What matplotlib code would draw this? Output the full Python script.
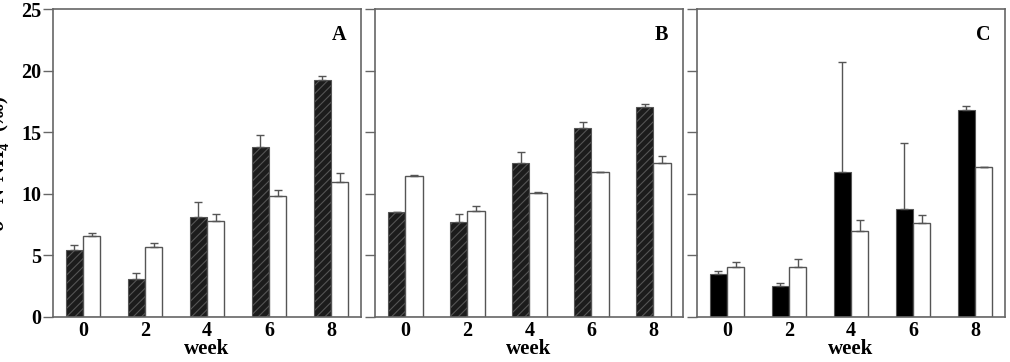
import numpy as np
import matplotlib
matplotlib.use('Agg')
from matplotlib import pyplot as plt

plt.rcParams['font.family'] = 'Liberation Serif'
plt.rcParams['font.weight'] = 'bold'
plt.rcParams['hatch.linewidth'] = 0.8
plt.rcParams['mathtext.fontset'] = 'custom'
plt.rcParams['mathtext.rm'] = 'Liberation Serif:bold'
plt.rcParams['mathtext.it'] = 'Liberation Serif:italic:bold'
plt.rcParams['mathtext.bf'] = 'Liberation Serif:bold'

weeks = ['0', '2', '4', '6', '8']
panels = ['A', 'B', 'C']

# dark bars (left of each pair) and white bars (right), with upper error
dark_A = [5.45, 3.05, 8.15, 13.85, 19.25]
dark_A_err = [0.4, 0.55, 1.2, 0.9, 0.35]
white_A = [6.6, 5.7, 7.8, 9.85, 10.95]
white_A_err = [0.2, 0.35, 0.55, 0.45, 0.75]

dark_B = [8.5, 7.75, 12.5, 15.35, 17.1]
dark_B_err = [0.0, 0.65, 0.9, 0.5, 0.2]
white_B = [11.45, 8.6, 10.1, 11.75, 12.5]
white_B_err = [0.05, 0.45, 0.05, 0.0, 0.6]

dark_C = [3.5, 2.5, 11.8, 8.75, 16.8]
dark_C_err = [0.25, 0.3, 8.95, 5.35, 0.35]
white_C = [4.1, 4.1, 7.0, 7.65, 12.15]
white_C_err = [0.4, 0.6, 0.85, 0.6, 0.05]

data = {
    'A': (dark_A, dark_A_err, white_A, white_A_err),
    'B': (dark_B, dark_B_err, white_B, white_B_err),
    'C': (dark_C, dark_C_err, white_C, white_C_err),
}

W, H = 1010, 362
fig = plt.figure(figsize=(W / 100, H / 100), dpi=100)

lefts = [52.7, 375, 696.7]
width = 308
bottom = 45
height = 307.7
spine_col = '#666666'
edge_col = '#555555'
w = 0.28
x = np.arange(len(weeks))

for i, p in enumerate(panels):
    ax = fig.add_axes([lefts[i] / W, bottom / H, width / W, height / H])
    d, de, wh, we = data[p]
    if p == 'C':
        ax.bar(x - w / 2, d, w, color='black', edgecolor=edge_col, linewidth=0.8)
    else:
        ax.bar(x - w / 2, d, w, color='#1c1c1c', edgecolor=edge_col,
               hatch='////', linewidth=0.8)
    ax.bar(x + w / 2, wh, w, color='white', edgecolor=edge_col, linewidth=1.0)
    ax.errorbar(x - w / 2, d, yerr=[np.zeros(5), de], fmt='none',
                ecolor=edge_col, elinewidth=1.0, capsize=3, capthick=1.0)
    ax.errorbar(x + w / 2, wh, yerr=[np.zeros(5), we], fmt='none',
                ecolor=edge_col, elinewidth=1.0, capsize=3, capthick=1.0)
    ax.set_xlim(-0.49, 4.48)
    ax.set_ylim(0, 25)
    ax.set_xticks(x)
    ax.set_xticklabels(weeks, fontsize=14.5, fontweight='bold')
    ax.set_yticks([0, 5, 10, 15, 20, 25])
    if i == 0:
        ax.set_yticklabels(['0', '5', '10', '15', '20', '25'], fontsize=14.5,
                           fontweight='bold')
    else:
        ax.set_yticklabels([])
    ax.tick_params(axis='x', length=0, pad=3)
    ax.tick_params(axis='y', direction='out', length=7, width=1.0,
                   color=spine_col, pad=1)
    for s in ax.spines.values():
        s.set_color(spine_col)
        s.set_linewidth(1.2)
    ax.set_xlabel('week', fontsize=15, fontweight='bold')
    ax.xaxis.set_label_coords(0.5, -0.073)
    ax.text(0.93, 0.915, p, transform=ax.transAxes, fontsize=14.5,
            fontweight='bold', ha='center', va='center')

# y label is partly clipped by the left edge, as in the source figure
fig.text(12 / W, (H - 163) / H, r'$\delta^{15}$N-NH$_4^+$ (‰)', rotation=90,
         ha='right', va='center', fontsize=15, fontweight='bold')

plt.savefig('out.png', dpi=100)
